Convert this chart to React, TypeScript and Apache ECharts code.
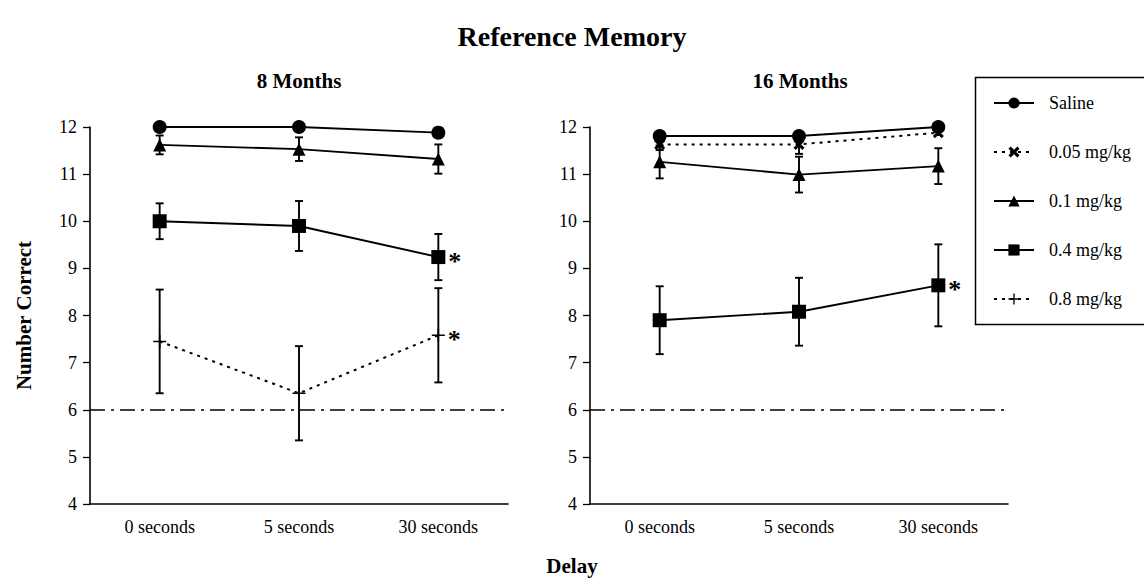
import React, { useEffect, useRef } from "react";
import * as echarts from "echarts";

const categories = ["0 seconds", "5 seconds", "30 seconds"];
const yTicks = [4, 12, 1]; // min, max, interval

// 8 Months
const saline8 = [12.0, 12.0, 11.88];
const saline8Err = [0, 0, 0];
const d01_8 = [11.62, 11.53, 11.32];
const d01_8Err = [0.2, 0.25, 0.31];
const d04_8 = [10.0, 9.9, 9.24];
const d04_8Err = [0.38, 0.53, 0.49];
const d04_8Sig = [false, false, true];
const d08_8 = [7.45, 6.35, 7.58];
const d08_8Err = [1.1, 1.0, 1.0];
const d08_8Sig = [false, false, true];

// 16 Months
const saline16 = [11.81, 11.81, 12.0];
const saline16Err = [0.05, 0.05, 0.03];
const d005_16 = [11.63, 11.63, 11.88];
const d005_16Err = [0.12, 0.2, 0.05];
const d01_16 = [11.26, 10.99, 11.17];
const d01_16Err = [0.35, 0.38, 0.38];
const d04_16 = [7.9, 8.08, 8.64];
const d04_16Err = [0.72, 0.72, 0.87];
const d04_16Sig = [false, false, true];

const chanceLevel = 6;

const names = ["Saline", "0.05 mg/kg", "0.1 mg/kg", "0.4 mg/kg", "0.8 mg/kg"];

const FONT = '"Liberation Serif", "Times New Roman", serif';

const X_SYMBOL =
  "path://M2,0 L5,3 L8,0 L10,2 L7,5 L10,8 L8,10 L5,7 L2,10 L0,8 L3,5 L0,2 Z";
const PLUS_SYMBOL =
  "path://M4.4,0 H5.6 V4.4 H10 V5.6 H5.6 V10 H4.4 V5.6 H0 V4.4 H4.4 Z";

export default function App() {
  const ref = useRef<HTMLDivElement>(null);

  useEffect(() => {
    document.body.style.margin = "0";
    const chart = echarts.init(ref.current!, null, { renderer: "svg" });

    const mkLine = (
      name: string,
      idx: number,
      vals: number[],
      symbol: string,
      symbolSize: number,
      dashed: boolean,
      sig?: boolean[],
      chance?: boolean
    ): any => {
      const s: any = {
        name,
        type: "line",
        xAxisIndex: idx,
        yAxisIndex: idx,
        z: 3,
        symbol,
        symbolSize,
        showAllSymbol: true,
        color: "#000",
        itemStyle: { color: "#000" },
        lineStyle: {
          color: "#000",
          width: dashed ? 2 : 1.9,
          type: dashed ? [3, 5] : "solid",
        },
        data: vals.map((v, i) =>
          sig && sig[i]
            ? {
                value: v,
                label: {
                  show: true,
                  formatter: "*",
                  position: "right",
                  distance: 3,
                  fontSize: 26,
                  fontWeight: "bold",
                  fontFamily: FONT,
                  color: "#000000",
                  offset: [0, 4],
                },
              }
            : v
        ),
      };
      if (chance) {
        s.markLine = {
          silent: true,
          symbol: "none",
          animation: false,
          label: { show: false },
          lineStyle: { color: "#000", width: 1.5, type: [15, 6, 3, 6] },
          data: [{ yAxis: chanceLevel }],
        };
      }
      return s;
    };

    const mkErr = (idx: number, vals: number[], errs: number[]): any => ({
      type: "custom",
      xAxisIndex: idx,
      yAxisIndex: idx,
      z: 2,
      silent: true,
      encode: { x: 0, y: [1, 2] },
      data: vals
        .map((v, i) => [i, v - errs[i], v + errs[i]])
        .filter((d, i) => errs[i] > 0),
      renderItem: (params: any, api: any) => {
        const lo = api.coord([api.value(0), api.value(1)]);
        const hi = api.coord([api.value(0), api.value(2)]);
        const w = 4;
        const style = { stroke: "#000", lineWidth: 1.9 };
        return {
          type: "group",
          children: [
            { type: "line", shape: { x1: lo[0], y1: lo[1], x2: hi[0], y2: hi[1] }, style },
            { type: "line", shape: { x1: lo[0] - w, y1: lo[1], x2: lo[0] + w, y2: lo[1] }, style },
            { type: "line", shape: { x1: hi[0] - w, y1: hi[1], x2: hi[0] + w, y2: hi[1] }, style },
          ],
        };
      },
    });

    const xAxisBase = (gridIndex: number): any => ({
      type: "category",
      gridIndex,
      data: categories,
      boundaryGap: true,
      axisLine: { lineStyle: { color: "#000", width: 1.6 } },
      axisTick: { alignWithLabel: true, length: 8, lineStyle: { color: "#000", width: 1.3 } },
      axisLabel: { color: "#000", fontSize: 18, fontFamily: FONT, margin: 14 },
      splitLine: { show: false },
    });

    const yAxisBase = (gridIndex: number): any => ({
      type: "value",
      gridIndex,
      min: yTicks[0],
      max: yTicks[1],
      interval: yTicks[2],
      axisLine: { show: true, lineStyle: { color: "#000", width: 1.6 } },
      axisTick: { show: true, length: 7, lineStyle: { color: "#000", width: 1.3 } },
      axisLabel: { color: "#000", fontSize: 18, fontFamily: FONT, margin: 13 },
      splitLine: { show: false },
    });

    const option: any = {
      animation: false,
      backgroundColor: "#fff",
      textStyle: { fontFamily: FONT },
      grid: [
        { left: 90, top: 127, width: 418, height: 377 },
        { left: 590, top: 127, width: 418, height: 377 },
      ],
      xAxis: [xAxisBase(0), xAxisBase(1)],
      yAxis: [
        {
          ...yAxisBase(0),
          name: "Number Correct",
          nameLocation: "middle",
          nameRotate: 90,
          nameGap: 56,
          nameTextStyle: { color: "#000", fontSize: 21, fontWeight: "bold", fontFamily: FONT },
        },
        yAxisBase(1),
      ],
      legend: {
        orient: "vertical",
        left: 975,
        top: 77,
        data: names,
        selectedMode: false,
        itemWidth: 40,
        itemHeight: 14,
        itemGap: 31,
        padding: [17, 10, 16, 18],
        borderWidth: 0,
        textStyle: {
          color: "#000",
          fontSize: 18,
          fontFamily: FONT,
          padding: [0, 0, 0, 10],
        },
      },
      graphic: [
        {
          type: "rect",
          shape: { x: 975.5, y: 77.5, width: 220, height: 247 },
          style: { fill: "none", stroke: "#000", lineWidth: 1.5 },
          silent: true,
        },
        {
          type: "text",
          x: 572,
          y: 36,
          style: {
            text: "Reference Memory",
            align: "center",
            verticalAlign: "middle",
            font: `bold 28px ${FONT}`,
            fill: "#000",
          },
        },
        {
          type: "text",
          x: 299,
          y: 81,
          style: {
            text: "8 Months",
            align: "center",
            verticalAlign: "middle",
            font: `bold 21px ${FONT}`,
            fill: "#000",
          },
        },
        {
          type: "text",
          x: 800,
          y: 81,
          style: {
            text: "16 Months",
            align: "center",
            verticalAlign: "middle",
            font: `bold 21px ${FONT}`,
            fill: "#000",
          },
        },
        {
          type: "text",
          x: 572,
          y: 566,
          style: {
            text: "Delay",
            align: "center",
            verticalAlign: "middle",
            font: `bold 21px ${FONT}`,
            fill: "#000",
          },
        },
      ],
      series: [
        mkErr(0, saline8, saline8Err),
        mkErr(0, d01_8, d01_8Err),
        mkErr(0, d04_8, d04_8Err),
        mkErr(0, d08_8, d08_8Err),
        mkErr(1, saline16, saline16Err),
        mkErr(1, d005_16, d005_16Err),
        mkErr(1, d01_16, d01_16Err),
        mkErr(1, d04_16, d04_16Err),
        mkLine(names[0], 0, saline8, "circle", 14, false, undefined, true),
        mkLine(names[2], 0, d01_8, "triangle", 13, false),
        mkLine(names[3], 0, d04_8, "rect", 14, false, d04_8Sig),
        mkLine(names[4], 0, d08_8, PLUS_SYMBOL, 13, true, d08_8Sig),
        mkLine(names[0], 1, saline16, "circle", 14, false, undefined, true),
        mkLine(names[1], 1, d005_16, X_SYMBOL, 11, true),
        mkLine(names[2], 1, d01_16, "triangle", 13, false),
        mkLine(names[3], 1, d04_16, "rect", 14, false, d04_16Sig),
      ],
    };

    chart.setOption(option);
    return () => chart.dispose();
  }, []);

  return <div ref={ref} style={{ width: 1144, height: 580 }} />;
}
